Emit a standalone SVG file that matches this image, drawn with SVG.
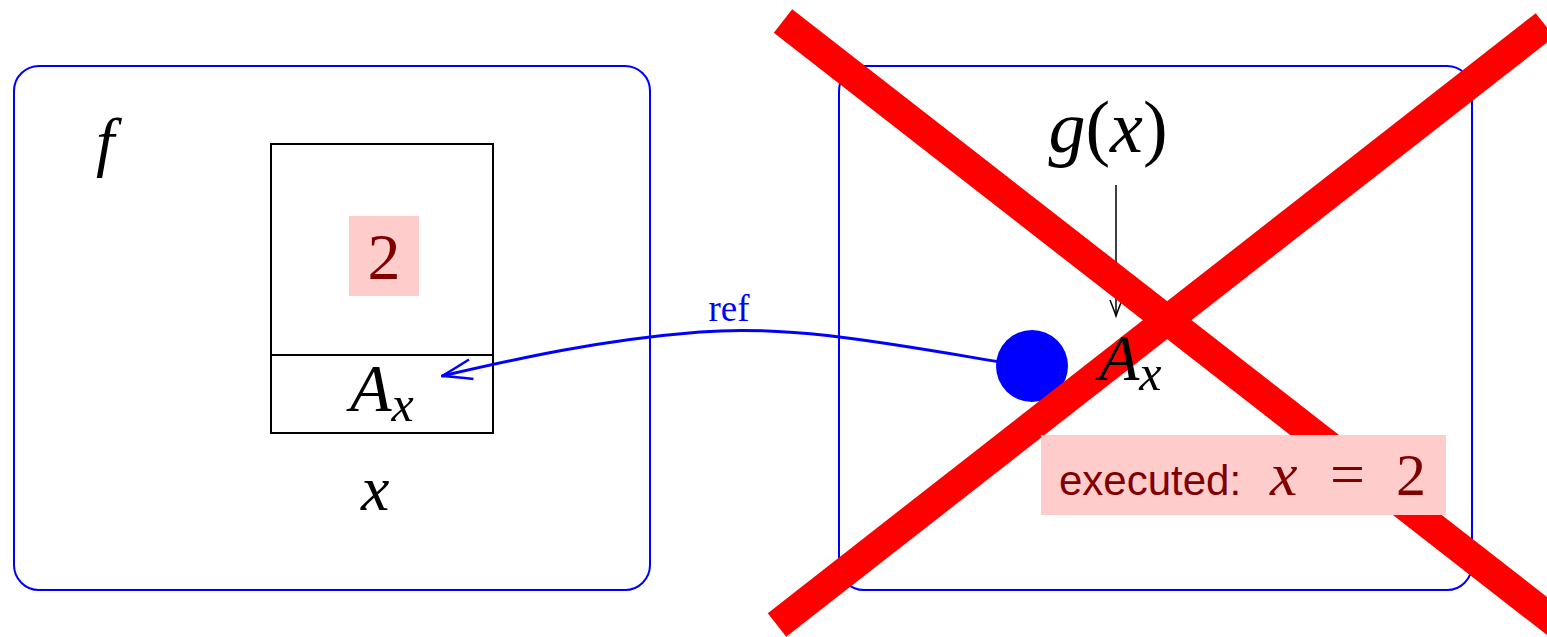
<svg xmlns="http://www.w3.org/2000/svg" width="1547" height="637" viewBox="0 0 1547 637">
<style>
.frame{fill:none;stroke:#0000ff;stroke-width:2}
.cell{fill:none;stroke:#000;stroke-width:2}
.math{font-family:"Liberation Serif",serif;font-style:italic;fill:#000}
.rm{font-family:"Liberation Serif",serif;fill:#000}
.hl{fill:#ffcccc}
.dark{fill:#800000}
.cross{stroke:#ff0000;stroke-width:30;stroke-linecap:butt}
</style>
<defs>
<marker id="bluehead" viewBox="0 0 32 24" refX="31" refY="12" markerWidth="32" markerHeight="24" markerUnits="userSpaceOnUse" orient="auto">
<path d="M1,2 Q18,8 31,12 Q18,16 1,22" fill="none" stroke="#0000ff" stroke-width="2.5"/>
</marker>
<marker id="blackhead" viewBox="0 0 20 20" refX="18" refY="10" markerWidth="20" markerHeight="20" markerUnits="userSpaceOnUse" orient="auto">
<path d="M2,4 Q12,8 18,10 Q12,12 2,16" fill="none" stroke="#000" stroke-width="1.5"/>
</marker>
</defs>
<g id="f">
<rect class="frame" x="14" y="66" width="636" height="524" rx="25"/>
<text class="math" x="96" y="164" font-size="66">f</text>
<text class="math" x="361" y="510" font-size="64">x</text>
</g>
<g id="cellA">
<rect class="cell" x="271" y="144" width="222" height="289"/>
<line class="cell" x1="271" y1="355" x2="493" y2="355"/>
<rect class="hl" x="349" y="216" width="70" height="80"/>
<text class="rm dark" x="384" y="279" font-size="66" text-anchor="middle">2</text>
<text class="math" x="350" y="411" font-size="68">A<tspan font-size="50" dy="10">x</tspan></text>
</g>
<g id="g">
<rect class="frame" x="839" y="66" width="633" height="524" rx="25"/>
<text class="rm" x="1108" y="152" font-size="74" text-anchor="middle"><tspan font-style="italic">g</tspan>(<tspan font-style="italic">x</tspan>)</text>
</g>
<g id="connectors">
<line x1="1116" y1="185" x2="1116" y2="316" stroke="#000" stroke-width="1.5" marker-end="url(#blackhead)"/>
<path d="M1000,362 C880,342 790,325 700,332 C600,340 520,358 442,376" fill="none" stroke="#0000ff" stroke-width="3" marker-end="url(#bluehead)"/>
<text x="729" y="321" font-family="Liberation Serif, serif" font-size="37" fill="#0000ff" text-anchor="middle">ref</text>
<circle cx="1032" cy="366" r="36" fill="#0000ff"/>
</g>
<g id="cross">
<line class="cross" x1="783" y1="21" x2="1565" y2="630"/>
<line class="cross" x1="777" y1="625" x2="1545" y2="25"/>
</g>
<g id="Ax">
<text class="math" x="1099" y="380" font-size="66">A<tspan font-size="50" dy="10">x</tspan></text>
</g>
<g id="executed">
<rect class="hl" x="1041" y="435" width="405" height="80"/>
<text x="1059" y="495" font-family="Liberation Sans, sans-serif" font-size="42" class="dark">executed:</text>
<text x="1270" y="495" font-family="Liberation Serif, serif" font-size="62" font-style="italic" class="dark">x</text>
<text x="1330" y="495" font-family="Liberation Serif, serif" font-size="62" class="dark" textLength="43">=</text>
<text x="1396" y="495" font-family="Liberation Serif, serif" font-size="60" class="dark">2</text>
</g>
</svg>
